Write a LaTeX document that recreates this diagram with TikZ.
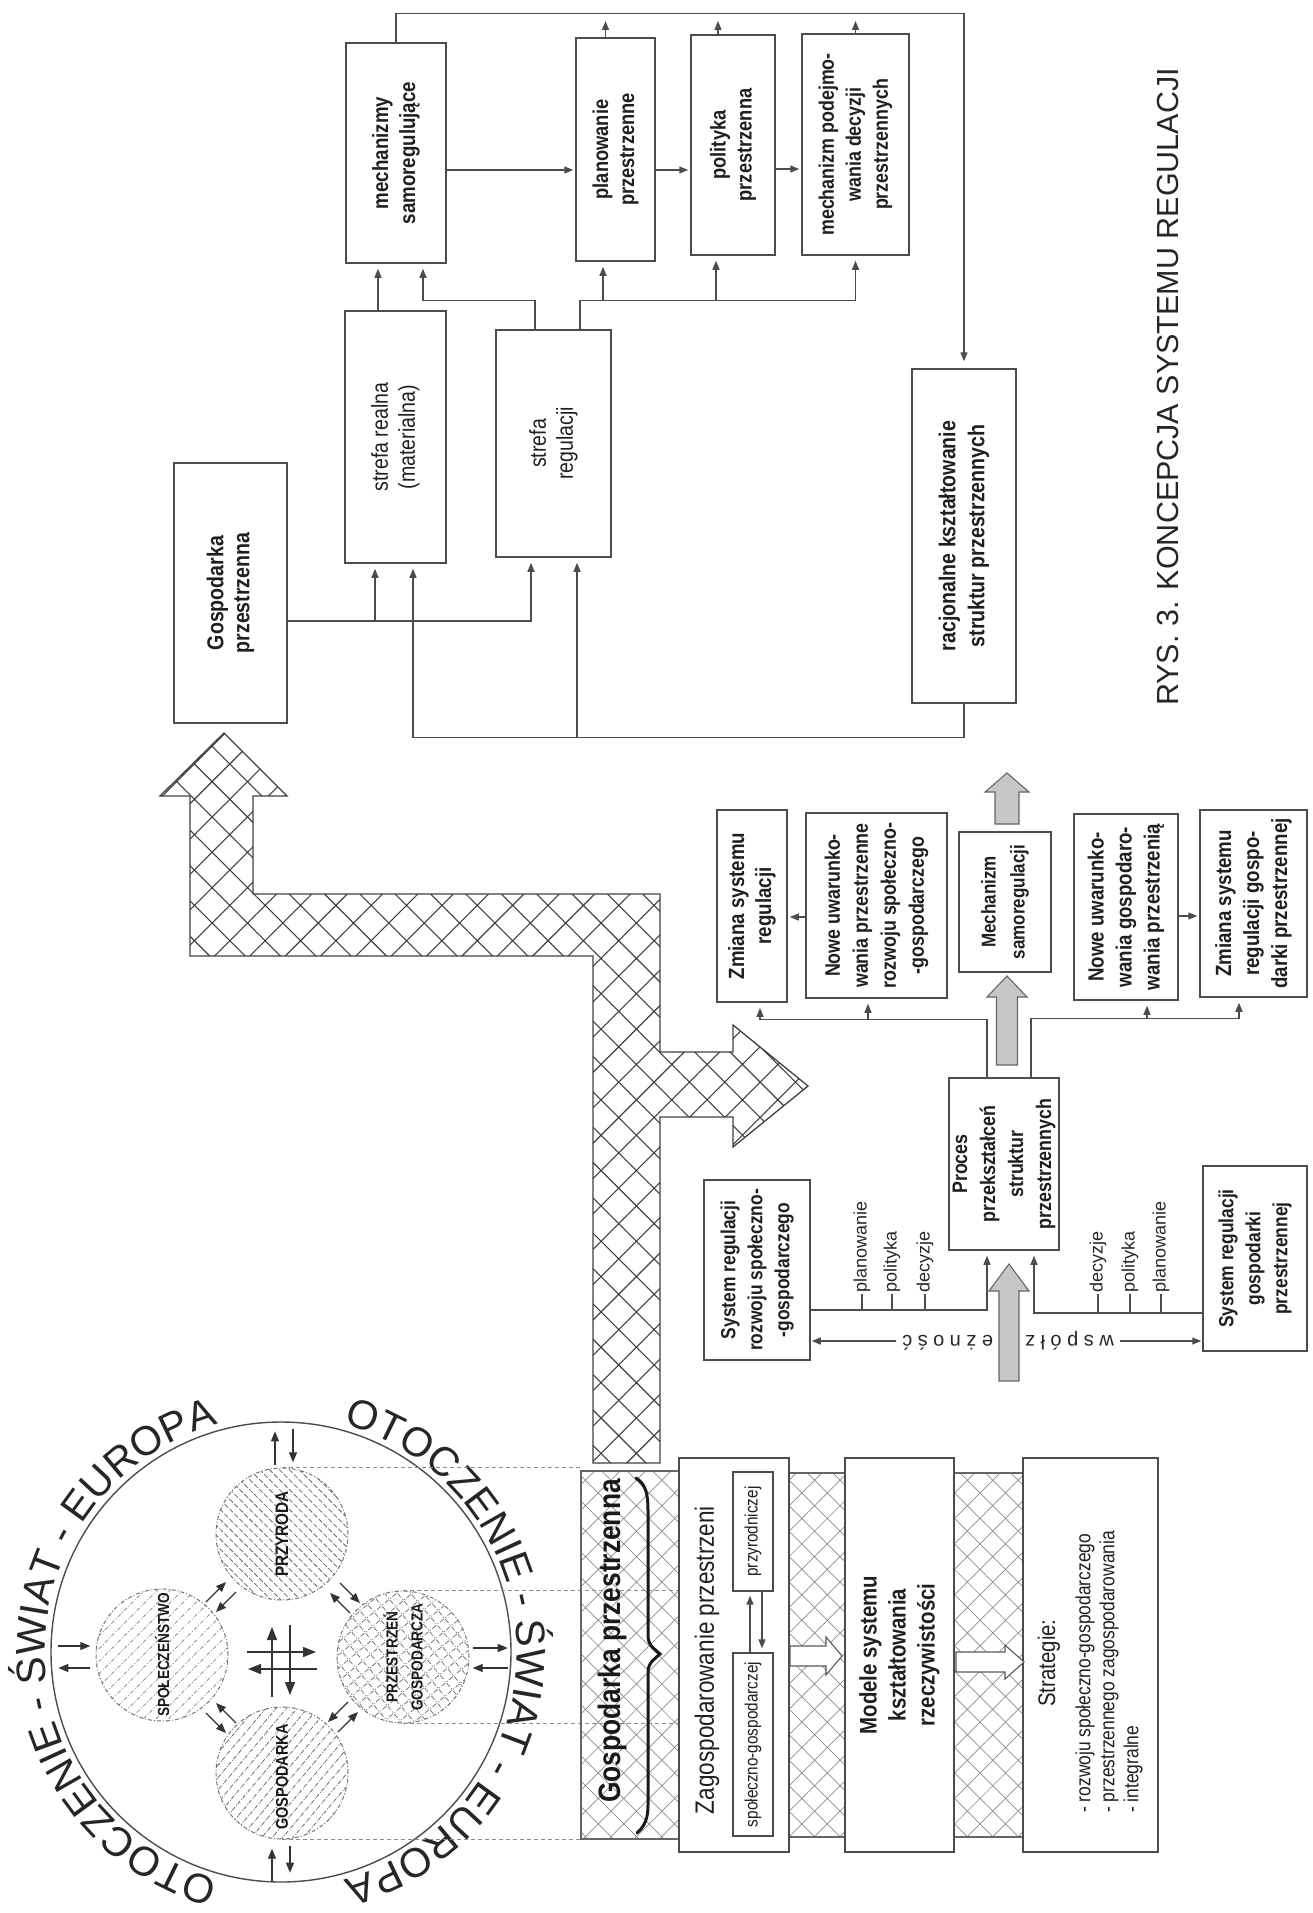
\documentclass[tikz,border=0pt]{standalone}
\usepackage{fontspec}
\setmainfont{Liberation Sans}[FakeStretch=0.85]
\newfontfamily\wideF{Liberation Sans}
\usetikzlibrary{arrows.meta,patterns.meta,decorations.text}
\newcommand\fs[2]{\fontsize{#1}{#2}\selectfont}
\newcommand\circF{\wideF\fontsize{41}{41}\selectfont}
\newcommand\wsptext{w\kern5.5pt s\kern5.5pt p\kern5.5pt ó\kern5.5pt ł\kern5.5pt z\kern5.5pt a\kern5.5pt l\kern5.5pt e\kern5.5pt ż\kern5.5pt n\kern5.5pt o\kern5.5pt ś\kern5.5pt ć}
\newcommand\garr[6]{\filldraw[garrow] (#1-#6,-#4) -- (#1-#6,-#3) -- (#1-#5,-#3) -- (#1,-#2) -- (#1+#5,-#3) -- (#1+#6,-#3) -- (#1+#6,-#4) -- cycle;}
\newcommand\warr[6]{\filldraw[warrow] (#1,-#4+#6) -- (#3,-#4+#6) -- (#3,-#4+#5) -- (#2,-#4) -- (#3,-#4-#5) -- (#3,-#4-#6) -- (#1,-#4-#6) -- cycle;}
\newcommand\sa[4]{\draw[sarr] (#1,-#2) -- (#3,-#4);}
\begin{document}
\begin{tikzpicture}[x=1pt,y=1pt,
  bx/.style={draw=black!70, line width=1.5pt, fill=white, rotate=90, inner sep=0pt, align=center, text=black!88},
  rb/.style n args={2}{bx, minimum width=#2pt, minimum height=#1pt},
  ln/.style={draw=black!70, line width=1.3pt},
  arr/.style={ln, -{Triangle[length=9pt,width=7pt]}, shorten >=5pt},
  sarr/.style={draw=black!80, line width=1.2pt, -{Triangle[length=10pt,width=8pt]}},
  carr/.style={draw=black!80, line width=1.4pt, -{Triangle[length=13pt,width=10pt]}},
  lab/.style={rotate=90, anchor=west, inner sep=1pt, font=\wideF\fs{18}{20}, text=black!85},
  hatchbig/.style={draw=black!75, line width=1.3pt, pattern={Hatch[angle=45,distance=25pt,line width=1.1pt]}, pattern color=black!75},
  hatchband/.style={draw=black!60, line width=1.2pt, inner sep=0pt, pattern={Hatch[angle=45,distance=18pt,line width=0.7pt]}, pattern color=black!45},
  garrow/.style={draw=black!60, line width=1.1pt, fill=black!22},
  warrow/.style={draw=black!65, line width=1.1pt, fill=white},
  dotl/.style={draw=black!45, line width=1pt, dash pattern=on 4pt off 3pt},
  inc/.style={circle, draw=black!55, line width=1pt, dash pattern=on 4pt off 2pt on 1pt off 2pt, minimum size=132pt, inner sep=0pt},
  ctext/.style={rotate=90, align=center, inner sep=0pt, text=black!90}
]
\useasboundingbox (0,0) rectangle (1312,-1913);
\coordinate (topbus) at (0,-14);
\coordinate (bandW) at (581,-1655);
\coordinate (zagW) at (679,-1655);

% ---------- upper block ----------
\node[rb={113}{260}, font=\bfseries\fs{23}{26}] (GP) at (230.5,-593) {Gospodarka\\przestrzenna};
\node[rb={101}{252}, font=\fs{23}{27}] (real) at (395.5,-437) {strefa realna\\(materialna)};
\node[rb={115}{227}, font=\fs{23}{27}] (reg) at (553.5,-443.5) {strefa\\regulacji};
\node[rb={100}{220}, font=\bfseries\fs{22}{27}] (mech) at (396,-153) {mechanizmy\\samoregulujące};
\node[rb={79}{223}, font=\bfseries\fs{21.5}{26}] (plan) at (615.5,-149.5) {planowanie\\przestrzenne};
\node[rb={84}{220}, font=\bfseries\fs{21.5}{26}] (pol) at (733,-145) {polityka\\przestrzenna};
\node[rb={107}{221}, font=\bfseries\fs{21}{27}] (pod) at (855.5,-144.5) {mechanizm podejmo-\\wania decyzji\\przestrzennych};
\node[rb={104}{334}, font=\bfseries\fs{23}{29}] (rac) at (964,-536) {racjonalne kształtowanie\\struktur przestrzennych};

\draw[arr, shorten >=7pt] (mech.east) -- ++(0,29) -| (rac.east);
\draw[arr, shorten >=7pt] ([xshift=-10pt]plan.east) -- ([xshift=-10pt]plan.east |- topbus);
\draw[arr, shorten >=7pt] ([xshift=-15pt]pol.east) -- ([xshift=-15pt]pol.east |- topbus);
\draw[arr, shorten >=7pt] (pod.east) -- (pod.east |- topbus);
\draw[arr, shorten >=2pt] (mech.south |- 0,-170) -- (plan.north |- 0,-170);
\draw[arr, shorten >=2pt] (plan.south |- 0,-170) -- (pol.north |- 0,-170);
\draw[arr, shorten >=2pt] (pol.south |- 0,-169) -- (pod.north |- 0,-169);
\draw[arr] ([xshift=-17.5pt]real.east) -- ([xshift=-17.5pt]real.east |- mech.west);
\draw[arr] ([xshift=-18.5pt]reg.east) -- ++(0,29) -| ([xshift=27pt]mech.west);
\draw[arr] ([xshift=26.5pt]reg.east) -- ++(0,29) -| (pod.west);
\draw[arr] ([xshift=-12.5pt]plan.west |- 0,-301) -- ([xshift=-12.5pt]plan.west);
\draw[arr] ([xshift=-17pt]pol.west |- 0,-301) -- ([xshift=-17pt]pol.west);
\draw[arr] (GP.south |- 0,-621) -| ([xshift=-22.5pt]reg.west);
\draw[arr] ([xshift=-20.5pt]real.west |- 0,-621) -- ([xshift=-20.5pt]real.west);
\draw[arr] (rac.west) -- ++(0,-34) -| ([xshift=17.5pt]real.west);
\draw[arr] ([xshift=23.5pt]reg.west |- 0,-737) -- ([xshift=23.5pt]reg.west);

\node[rotate=90, font=\wideF\fs{30.5}{36}, text=black!85] (cap) at (1168,-387) {RYS. 3. KONCEPCJA SYSTEMU REGULACJI};

% ---------- big hatched arrow ----------
\draw[hatchbig] (224,-733) -- (287,-796) -- (253,-796) -- (253,-894) -- (660,-894) -- (660,-1052) -- (733,-1052) -- (733,-1025) -- (808,-1086) -- (733,-1147) -- (733,-1117) -- (660,-1117) -- (660,-1463) -- (593,-1463) -- (593,-956) -- (190,-956) -- (190,-796) -- (160,-796) -- cycle;

% ---------- middle-right block ----------
\node[rb={70}{192}, font=\bfseries\fs{22}{27}] (zm1) at (752,-906) {Zmiana systemu\\regulacji};
\node[rb={141}{185}, font=\bfseries\fs{21}{28}] (n1) at (876.5,-905.5) {Nowe uwarunko-\\wania przestrzenne\\rozwoju społeczno-\\-gospodarczego};
\node[rb={92}{140}, font=\bfseries\fs{20}{29}] (ms) at (1005,-902) {Mechanizm\\samoregulacji};
\node[rb={104}{186}, font=\bfseries\fs{22}{28}] (n2) at (1126,-907) {Nowe uwarunko-\\wania gospodaro-\\wania przestrzenią};
\node[rb={107}{187}, font=\bfseries\fs{22}{28}] (zm2) at (1253.5,-903.5) {Zmiana systemu\\regulacji gospo-\\darki przestrzennej};
\node[rb={110}{172}, font=\bfseries\fs{21}{28}] (proc) at (1004,-1164) {Proces\\przekształceń\\struktur\\przestrzennych};
\node[rb={106}{180}, font=\bfseries\fs{20.5}{27}] (sysl) at (757,-1270) {System regulacji\\rozwoju społeczno-\\-gospodarczego};
\node[rb={104}{185}, font=\bfseries\fs{20.5}{27}] (sysr) at (1255,-1258.5) {System regulacji\\gospodarki\\przestrzennej};

\garr{1007}{773}{792}{824}{22}{12}
\garr{1007}{976}{997}{1065}{20}{10.5}

\draw[arr] ([xshift=-17pt]proc.east) -- ++(0,58) -| ([xshift=8pt]zm1.west);
\draw[arr] ([xshift=-8.5pt]n1.west |- 0,-1020) -- ([xshift=-8.5pt]n1.west);
\draw[arr] ([xshift=27pt]proc.east) -- ++(0,59) -| ([xshift=-14.5pt]zm2.west);
\draw[arr] ([xshift=21pt]n2.west |- 0,-1019) -- ([xshift=21pt]n2.west);
\draw[arr, shorten >=2pt] (n1.north |- 0,-917) -- (zm1.south |- 0,-917);
\draw[arr, shorten >=2pt] (n2.south |- 0,-916) -- (zm2.north |- 0,-916);
\draw[arr] (sysl.south |- 0,-1310) -| ([xshift=-17pt]proc.west);
\draw[arr] (sysr.north |- 0,-1313) -| ([xshift=30pt]proc.west);

\node[lab] (lp1) at (862,-1294) {planowanie};
\node[lab] (lp2) at (892,-1294) {polityka};
\node[lab] (lp3) at (925,-1294) {decyzje};
\node[lab] (rp1) at (1098,-1294) {decyzje};
\node[lab] (rp2) at (1130,-1294) {polityka};
\node[lab] (rp3) at (1161,-1294) {planowanie};
\foreach \n in {lp1,lp2,lp3} \draw[ln] (\n.west) -- ++(0,-16);
\foreach \n in {rp1,rp2,rp3} \draw[ln] (\n.west) -- ++(0,-19);

\node[rotate=180, font=\wideF\fs{20}{24}, inner sep=6pt, text=black!85] (wsp) at (1008,-1341) {\wsptext};
\draw[arr, shorten >=1pt] (wsp.east) -- (sysl.south |- wsp.east);
\draw[arr, shorten >=1pt] (wsp.west) -- (sysr.north |- wsp.west);
\garr{1009}{1264}{1291}{1381}{20}{10}

% ---------- circle ----------
\node[circle, draw=black!70, line width=1.4pt, minimum size=460pt, inner sep=0pt] (env) at (281,-1652) {};
\node[inc, pattern={Lines[angle=-45,distance=7pt,line width=0.8pt]}, pattern color=black!60] (cP) at (282,-1534) {};
\node[inc, pattern={Lines[angle=45,distance=9pt,line width=0.7pt]}, pattern color=black!48] (cS) at (162,-1655) {};
\node[inc, pattern={Hatch[angle=40,distance=10pt,line width=0.7pt]}, pattern color=black!58] (cZ) at (403,-1657) {};
\node[inc, pattern={Lines[angle=50,distance=8pt,line width=0.8pt]}, pattern color=black!58] (cG) at (282,-1773) {};
\node[ctext, font=\bfseries\fs{18}{22}] (tP) at (cP) {PRZYRODA};
\node[ctext, font=\bfseries\fs{16}{20}] (tS) at (cS) {SPOŁECZEŃSTWO};
\node[ctext, font=\bfseries\fs{16}{25}] (tZ) at (cZ) {PRZESTRZEŃ\\GOSPODARCZA};
\node[ctext, font=\bfseries\fs{17}{20}] (tG) at ([yshift=-4pt]cG.center) {GOSPODARKA};

% centre cross
\draw[carr] ([shift={(-34,0)}]env.center) -- ++(69,0);
\draw[carr] ([shift={(36,-17)}]env.center) -- ++(-69,0);
\draw[carr] ([shift={(-9,-45)}]env.center) -- ++(0,70);
\draw[carr] ([shift={(9,27)}]env.center) -- ++(0,-70);
% outer pairs
\draw[sarr] ([shift={(-6,-44)}]env.north) -- ++(0,34);
\draw[sarr] ([shift={(12,-8)}]env.north) -- ++(0,-33);
\draw[sarr] ([shift={(-9,2)}]env.south) -- ++(0,32);
\draw[sarr] ([shift={(9,37)}]env.south) -- ++(0,-27);
\draw[sarr] ([shift={(8,6)}]env.west) -- ++(32,0);
\draw[sarr] ([shift={(40,-16)}]env.west) -- ++(-32,0);
\draw[sarr] ([shift={(-39,4)}]env.east) -- ++(35,0);
\draw[sarr] ([shift={(-4,-16)}]env.east) -- ++(-35,0);
% diagonal pairs
\sa{206}{1602}{226}{1582}\sa{236}{1592}{216}{1612}
\sa{340}{1583}{360}{1603}\sa{350}{1613}{330}{1593}
\sa{206}{1713}{226}{1733}\sa{236}{1723}{216}{1703}
\sa{338}{1732}{358}{1712}\sa{348}{1702}{328}{1722}

\path[decorate, decoration={text along path, text={|\circF|OTOCZENIE - ŚWIAT - EUROPA}, text align=center, text color=black!85}]
  ([shift={(262:236)}]env.center) arc[start angle=262, end angle=98, radius=236];
\path[decorate, decoration={text along path, text={|\circF|OTOCZENIE - ŚWIAT - EUROPA}, text align=center, text color=black!85}]
  ([shift={(82:236)}]env.center) arc[start angle=82, end angle=-82, radius=236];

% dotted projection lines
\draw[dotl] (cP.north) -- (cP.north -| bandW);
\draw[dotl] (cZ.north) -- (cZ.north -| zagW);
\draw[dotl] (cZ.south) -- (cZ.south -| zagW);
\draw[dotl] (cG.south) -- (cG.south -| bandW);

% ---------- lower block ----------
\node[hatchband, minimum width=99pt, minimum height=368pt] (gpband) at (630.5,-1655) {};
\node[hatchband, minimum width=57pt, minimum height=364pt] (band2) at (816.5,-1655) {};
\node[hatchband, minimum width=69pt, minimum height=364pt] (band3) at (988.5,-1655) {};

\node[rb={110}{394}] (zag) at (734,-1655) {};
\node[rotate=90, font=\fs{26.5}{30}, text=black!88] (zagtxt) at (707,-1660) {Zagospodarowanie przestrzeni};
\node[rb={40}{119}, line width=1.3pt, font=\fs{18}{20}] (przy) at (753,-1531.5) {przyrodniczej};
\node[rb={40}{183}, line width=1.3pt, font=\fs{18}{20}] (spg) at (753,-1744.5) {społeczno-gospodarczej};
\draw[arr, shorten >=4pt] ([xshift=-3pt]spg.east) -- ([xshift=-3pt]przy.west);
\draw[arr, shorten >=4pt] ([xshift=9pt]przy.west) -- ([xshift=9pt]spg.east);

\node[rb={109}{394}, font=\bfseries\fs{24}{29}] (mod) at (899.5,-1655) {Modele systemu\\kształtowania\\rzeczywistości};
\node[rb={135}{394}] (str) at (1090.5,-1655) {};
\node[rotate=90, font=\fs{24}{28}, text=black!88] (strT) at (1049,-1663) {Strategie:};
\node[rotate=90, anchor=west, align=left, inner sep=0pt, font=\fs{20.5}{24}, text=black!88] (strL) at (1109,-1813) {- rozwoju społeczno-gospodarczego\\- przestrzennego zagospodarowania\\- integralne};

\warr{790}{842}{826}{1656}{19}{10}
\warr{956}{1024}{1005}{1662}{17}{10}

\node[rotate=90, font=\bfseries\fs{31}{36}, text=black!90] (gptxt) at (612,-1641) {Gospodarka przestrzenna};
\draw[black!90, line width=3pt, line cap=round] (636,-1478) .. controls (646,-1484) and (648,-1495) .. (648,-1510) -- (648,-1636) .. controls (648,-1646) and (656,-1650) .. (660,-1654) .. controls (656,-1658) and (648,-1662) .. (648,-1672) -- (648,-1805) .. controls (648,-1818) and (645,-1826) .. (637,-1833);
\end{tikzpicture}
\end{document}
